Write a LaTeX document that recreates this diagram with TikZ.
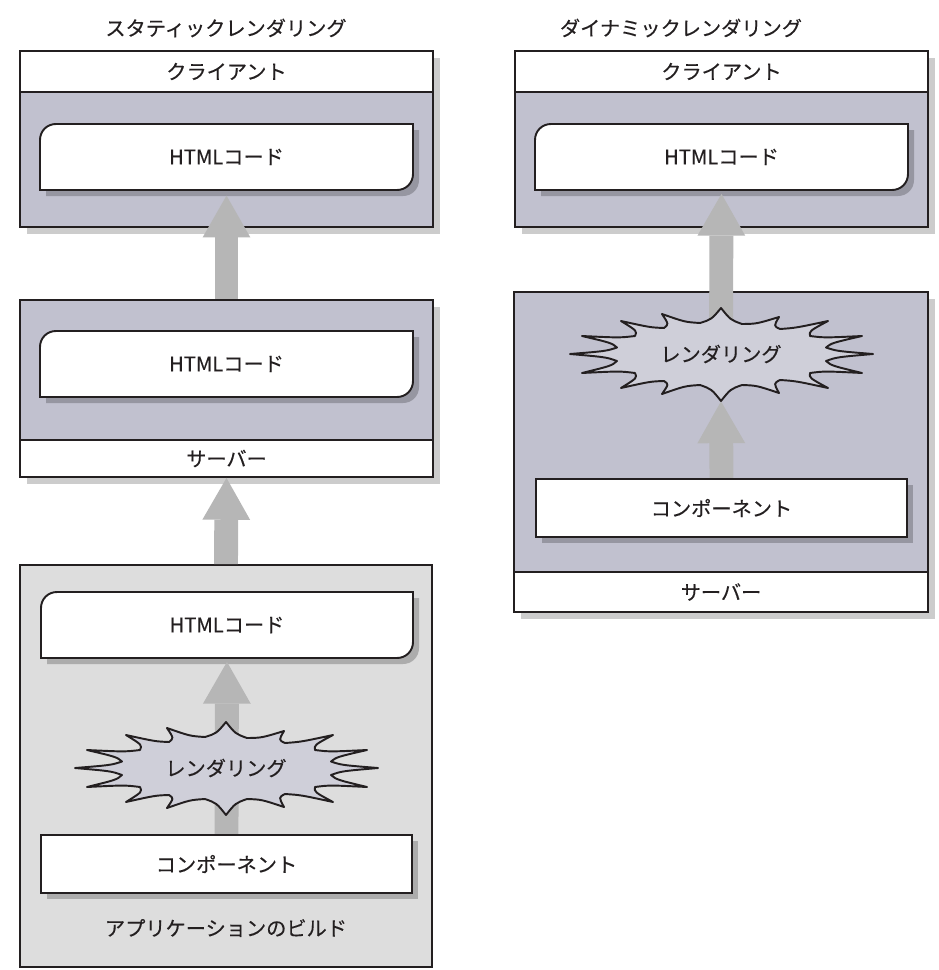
\documentclass[tikz,border=0pt]{standalone}
\usepackage{fontspec}
\setmainfont{Noto Sans CJK JP}[FakeBold=0.3]
\usetikzlibrary{arrows.meta}
\definecolor{linec}{RGB}{35,31,32}
\definecolor{boxgray}{RGB}{193,193,207}
\definecolor{burstc}{RGB}{207,207,217}
\definecolor{buildc}{RGB}{221,221,221}
\definecolor{arrowc}{RGB}{182,182,182}
\pgfdeclarelayer{bg}\pgfdeclarelayer{shad}\pgfdeclarelayer{arr}
\pgfsetlayers{bg,shad,arr,main}
\newcommand\codebox[4]{(#1,#4) -- (#1,#2+16) .. controls (#1,#2+7) and (#1+7,#2) .. (#1+16,#2) -- (#3,#2) -- (#3,#4-16) .. controls (#3,#4-7) and (#3-7,#4) .. (#3-16,#4) -- cycle}
\newcommand\burstshape{(0,-46) \foreach \x/\y [remember=\x as \px (initially 0), remember=\y as \py (initially -46), evaluate=\x as \cx using {0.45*(\x+\px)}, evaluate=\y as \cy using {0.45*(\y+\py)}] in {21/-30,58/-37,59/-25,107/-33,89/-18,141/-18,105/-6.5,152/0,105/7,141/19,89/19,107/34,59/26,58/39,21/31,0/47,-21/31,-59/40,-57/27,-100/34,-86/19,-139/19,-104/7,-151/0,-104/-6.5,-139/-18,-86/-18,-100/-33,-57/-26,-59/-40,-21/-31,0/-46} { .. controls (\cx,\cy) .. (\x,\y)} -- cycle}
\begin{document}
\begin{tikzpicture}[x=0.02cm,y=-0.02cm,
  font=\fontsize{11.5}{13}\selectfont, text=linec,
  cont/.style={draw=linec, line width=1.1pt, inner sep=0pt, minimum width=8.26cm},
  codenode/.style={inner sep=0pt, minimum width=7.46cm, minimum height=1.32cm},
  compnode/.style={draw=linec, line width=1.1pt, fill=white, inner sep=0pt, minimum width=7.42cm, minimum height=1.16cm},
  codeshape/.style={draw=linec, line width=1.1pt, fill=white},
  shadowout/.style={fill=black!20},
  shadowin/.style={fill=black, opacity=0.22},
  bigarrow/.style={draw=arrowc, line width=13.6pt, -{Triangle[length=23.8pt,width=27.2pt,line width=0pt]}},
  burstst/.style={fill=burstc, draw=linec, line width=1.1pt, line join=round},
  burstnode/.style={inner sep=0pt, minimum width=6.04cm, minimum height=1.88cm}]
\useasboundingbox (0,0) rectangle (939,970);

% titles
\node (tL) at (226,28) {スタティックレンダリング};
\node (tR) at (681,28) {ダイナミックレンダリング};

% containers
\begin{pgfonlayer}{bg}
\fill[shadowout] (27,58) rectangle (440,234);
\node[cont, fill=white, minimum height=0.82cm] (cliLh) at (226.5,71.5) {クライアント};
\node[cont, fill=boxgray, minimum height=2.7cm] (cliL) at (226.5,159.5) {};
\fill[shadowout] (27,307) rectangle (440,484);
\node[cont, fill=boxgray, minimum height=2.8cm] (srvL) at (226.5,370) {};
\node[cont, fill=white, minimum height=0.74cm] (srvLh) at (226.5,458.5) {サーバー};
\node[cont, fill=buildc, minimum width=8.24cm, minimum height=8.04cm] (bld) at (226,766) {};
\fill[shadowout] (522,58) rectangle (935,234);
\node[cont, fill=white, minimum height=0.82cm] (cliRh) at (721.5,71.5) {クライアント};
\node[cont, fill=boxgray, minimum height=2.7cm] (cliR) at (721.5,159.5) {};
\fill[shadowout] (521,299) rectangle (935,619);
\node[cont, fill=boxgray, minimum width=8.28cm, minimum height=5.6cm] (srvR) at (721,432) {};
\node[cont, fill=white, minimum width=8.28cm, minimum height=0.8cm] (srvRh) at (721,592) {サーバー};
\end{pgfonlayer}
\node (bldl) at (226,928) {アプリケーションのビルド};

% inner shadows
\begin{pgfonlayer}{shad}
\fill[shadowin, shift={(6,6)}] \codebox{40}{124}{413}{190};
\fill[shadowin, shift={(6,6)}] \codebox{40}{331}{413}{397};
\fill[shadowin, shift={(6,6)}] \codebox{41}{592}{413}{658};
\fill[shadowin, shift={(6,6)}] \codebox{535}{124}{908}{190};
\fill[shadowin] (47,841) rectangle (418,899);
\fill[shadowin] (542,485) rectangle (913,543);
\end{pgfonlayer}

% code boxes
\draw[codeshape] \codebox{40}{124}{413}{190};
\node[codenode] (hL1) at (226.5,157) {HTMLコード};
\draw[codeshape] \codebox{40}{331}{413}{397};
\node[codenode] (hL2) at (226.5,364) {HTMLコード};
\draw[codeshape] \codebox{41}{592}{413}{658};
\node[codenode] (hL3) at (227,625) {HTMLコード};
\draw[codeshape] \codebox{535}{124}{908}{190};
\node[codenode] (hR1) at (721.5,157) {HTMLコード};

% components
\node[compnode] (cpL) at (226.5,864) {コンポーネント};
\node[compnode] (cpR) at (721.5,508) {コンポーネント};

% rendering bursts (text)
\node[burstnode] (brL) at (226,768) {レンダリング};
\node[burstnode] (brR) at (721,354) {レンダリング};

% arrows and burst shapes
\begin{pgfonlayer}{arr}
\draw[bigarrow, shorten >=3pt] (srvL.north) -- (hL1.south);
\draw[bigarrow] (bld.north) -- (srvLh.south);
\draw[bigarrow, shorten >=2pt] (cpL.north) -- (hL3.south);
\draw[bigarrow, shorten >=2pt] (brR.center) -- (hR1.south);
\draw[bigarrow] (cpR.north) -- (brR.south);
\draw[burstst, shift={(brL.center)}] \burstshape;
\draw[burstst, shift={(brR.center)}] \burstshape;
\end{pgfonlayer}
\end{tikzpicture}
\end{document}
